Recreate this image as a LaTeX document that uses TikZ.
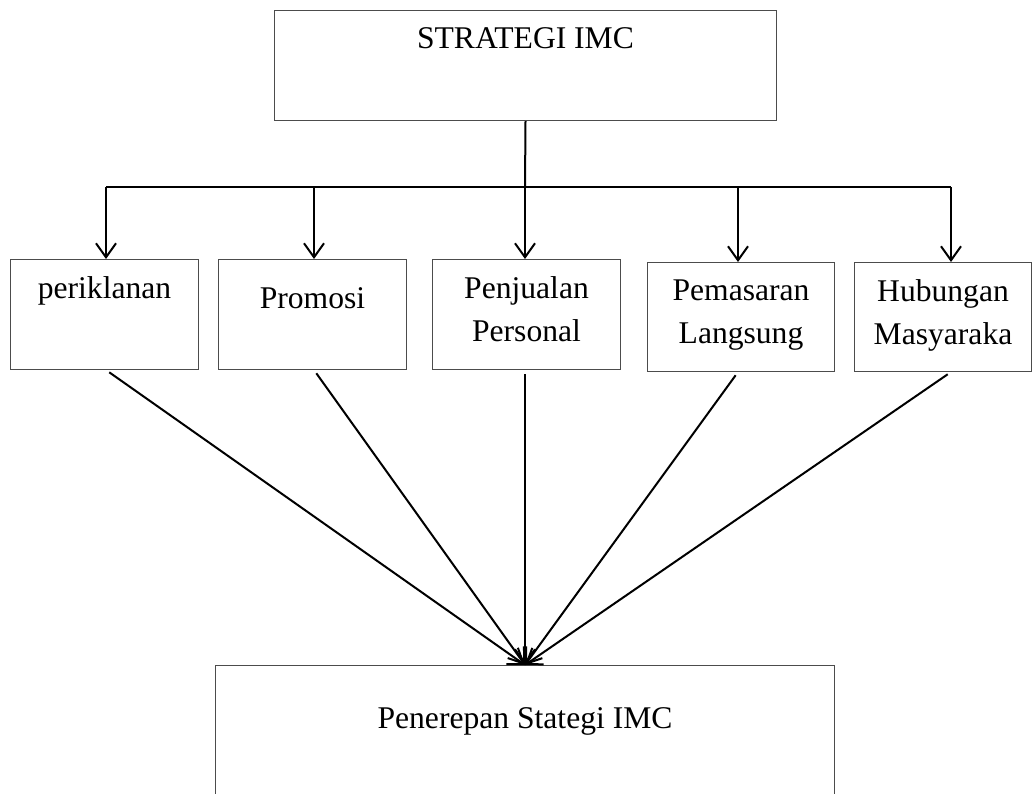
\documentclass[tikz,border=0pt]{standalone}
\usepackage{fontspec}
\setmainfont{Liberation Serif}
\usetikzlibrary{arrows.meta}

\tikzset{
    kotak/.style={draw=black!70, line width=0.5pt, anchor=north west,
                  inner sep=0pt, minimum width=94pt, minimum height=55pt},
    isi/.style={anchor=north, inner sep=0pt, align=center, yshift=-8.5pt},
    panah/.style={-{Straight Barb[length=7pt,width=10pt]}, line width=1pt}
}

\begin{document}
\begin{tikzpicture}[x=0.5pt,
            y=-0.5pt,
            font=\fontsize{15.8}{21.5}\selectfont]

        \useasboundingbox (0,0) rectangle (1032,793);

        \node[kotak, minimum width=251pt,
              label={[isi]north:STRATEGI IMC}]                     (atas)    at (274,10)  {};
        \node[kotak, label={[isi]north:periklanan}]                (iklan)   at (10,259)  {};
        \node[kotak, label={[isi,yshift=-5.5pt]north:Promosi}]     (promosi) at (218,259) {};
        \node[kotak, label={[isi]north:Penjualan\\Personal}]       (jual)    at (432,259) {};
        \node[kotak, minimum width=93.5pt, minimum height=54.5pt,
              label={[isi]north:Pemasaran\\Langsung}]              (pasar)   at (647,262) {};
        \node[kotak, minimum width=88.5pt, minimum height=54.5pt,
              label={[isi]north:Hubungan\\Masyaraka}]              (humas)   at (854,262) {};
        \node[kotak, minimum width=309.5pt, minimum height=72pt,
              label={[isi,yshift=-12.5pt]north:Penerepan Stategi IMC}] (bawah) at (215,665) {};

        \coordinate (c1) at (106,187);
        \coordinate (c2) at (314,187);
        \coordinate (c3) at (525,187);
        \coordinate (c4) at (738,187);
        \coordinate (c5) at (951,187);

        % dari strategi ke garis bagi
        \draw[line width=1pt] (atas.south) -- (c3);
        \draw[line width=1pt] (c1) -- (c5);

        \path[panah] (c1) edge (c1 |- iklan.north)
                     (c2) edge (c2 |- promosi.north)
                     (c3) edge (c3 |- jual.north)
                     (c4) edge (c4 |- pasar.north)
                     (c5) edge (c5 |- humas.north);

        % semua menuju penerapan
        \path[panah, shorten <=2pt]
              (c1 |- iklan.south)   edge (bawah.north)
              (c2 |- promosi.south) edge (bawah.north)
              (c3 |- jual.south)    edge (bawah.north)
              (c4 |- pasar.south)   edge (bawah.north)
              (c5 |- humas.south)   edge (bawah.north);

    \end{tikzpicture}
\end{document}
